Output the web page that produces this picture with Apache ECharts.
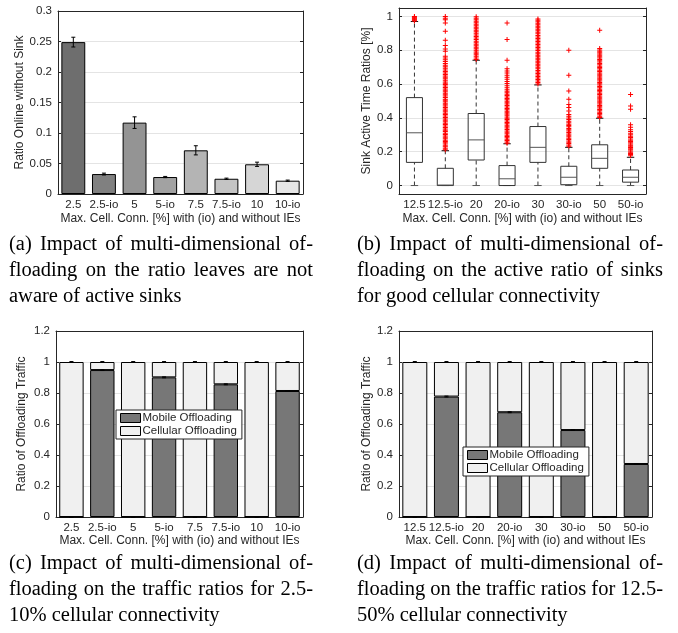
<!DOCTYPE html>
<html>
<head>
<meta charset="utf-8">
<script src="https://cdn.jsdelivr.net/npm/echarts@6/dist/echarts.min.js"></script>
<style>
html, body { margin: 0; padding: 0; background: #fff; }
#main { width: 678px; height: 633px; }
</style>
</head>
<body>
<div id="main"></div>
<script>
// categories
const catsLow = ['2.5', '2.5-io', '5', '5-io', '7.5', '7.5-io', '10', '10-io']
const catsHigh = ['12.5', '12.5-io', '20', '20-io', '30', '30-io', '50', '50-io']

// (a) ratio online without sink, with error
const ratioOnline = [0.249, 0.0327, 0.117, 0.0278, 0.0716, 0.025, 0.0487, 0.0218]
const ratioOnlineErr = [0.008, 0.0015, 0.0095, 0.001, 0.0075, 0.001, 0.0035, 0.001]

// (b) sink active time ratios: [min, q1, median, q3, max]
const sinkBox = [
  [0, 0.137, 0.312, 0.52, 0.97],
  [0, 0, 0.003, 0.102, 0.206],
  [0, 0.151, 0.27, 0.426, 0.741],
  [0, 0, 0.04, 0.118, 0.247],
  [0, 0.137, 0.226, 0.349, 0.595],
  [0, 0.005, 0.049, 0.114, 0.226],
  [0, 0.102, 0.161, 0.241, 0.398],
  [0, 0.02, 0.049, 0.092, 0.167]
]
const sinkOutliers = [
  [0.973, 0.977, 0.981, 0.985, 0.989, 0.993, 0.997, 1.0],
  [0.212, 0.22, 0.229, 0.236, 0.245, 0.253, 0.26, 0.268, 0.277, 0.286, 0.293, 0.302, 0.31, 0.319, 0.327, 0.334,
    0.344, 0.352, 0.361, 0.369, 0.377, 0.386, 0.393, 0.402, 0.411, 0.42, 0.427, 0.436, 0.445, 0.453, 0.462, 0.47,
    0.478, 0.487, 0.495, 0.504, 0.511, 0.52, 0.529, 0.537, 0.546, 0.554, 0.563, 0.571, 0.58, 0.588, 0.597, 0.605,
    0.613, 0.622, 0.631, 0.64, 0.648, 0.657, 0.666, 0.675, 0.684, 0.693, 0.702, 0.712, 0.722, 0.733, 0.744, 0.755,
    0.765, 0.794, 0.808, 0.828, 0.859, 0.912, 0.962, 0.98, 0.99, 1.0],
  [0.745, 0.754, 0.764, 0.773, 0.782, 0.79, 0.8, 0.809, 0.818, 0.827, 0.836, 0.845, 0.854, 0.863, 0.872, 0.881,
    0.89, 0.9, 0.909, 0.918, 0.927, 0.936, 0.945, 0.954, 0.963, 0.972, 0.981, 0.99, 0.998],
  [0.25, 0.258, 0.266, 0.274, 0.282, 0.29, 0.298, 0.307, 0.315, 0.323, 0.331, 0.34, 0.348, 0.356, 0.365, 0.373,
    0.381, 0.39, 0.398, 0.406, 0.415, 0.423, 0.431, 0.44, 0.448, 0.456, 0.465, 0.473, 0.482, 0.49, 0.498, 0.507,
    0.515, 0.524, 0.532, 0.54, 0.549, 0.557, 0.566, 0.578, 0.59, 0.603, 0.615, 0.628, 0.64, 0.652, 0.665, 0.678,
    0.69, 0.741, 0.863, 0.961],
  [0.6, 0.609, 0.618, 0.627, 0.636, 0.645, 0.654, 0.663, 0.672, 0.681, 0.69, 0.699, 0.708, 0.717, 0.726, 0.735,
    0.744, 0.753, 0.762, 0.771, 0.78, 0.789, 0.798, 0.807, 0.816, 0.825, 0.834, 0.843, 0.852, 0.861, 0.87, 0.879,
    0.888, 0.897, 0.906, 0.915, 0.924, 0.933, 0.942, 0.951, 0.96, 0.969, 0.978, 0.985],
  [0.232, 0.24, 0.248, 0.256, 0.264, 0.272, 0.28, 0.289, 0.297, 0.305, 0.313, 0.322, 0.33, 0.338, 0.347, 0.355,
    0.363, 0.371, 0.38, 0.39, 0.4, 0.41, 0.42, 0.441, 0.461, 0.48, 0.51, 0.559, 0.653, 0.8],
  [0.402, 0.41, 0.418, 0.426, 0.434, 0.442, 0.45, 0.458, 0.466, 0.474, 0.482, 0.49, 0.498, 0.506, 0.514, 0.522,
    0.53, 0.538, 0.546, 0.554, 0.562, 0.57, 0.578, 0.586, 0.594, 0.602, 0.61, 0.618, 0.626, 0.634, 0.642, 0.65,
    0.658, 0.666, 0.674, 0.682, 0.69, 0.698, 0.706, 0.714, 0.722, 0.73, 0.738, 0.746, 0.754, 0.762, 0.77, 0.778,
    0.786, 0.794, 0.802, 0.81, 0.918],
  [0.176, 0.183, 0.19, 0.197, 0.204, 0.211, 0.218, 0.225, 0.232, 0.239, 0.246, 0.253, 0.26, 0.268, 0.276, 0.284,
    0.292, 0.3, 0.31, 0.32, 0.33, 0.345, 0.36, 0.451, 0.47, 0.539]
]

// (c) / (d) share of offloading traffic
const mobileLow = [0, 0.948, 0, 0.901, 0, 0.856, 0, 0.813]
const cellularLow = [1, 0.052, 1, 0.099, 1, 0.144, 1, 0.187]
const mobileHigh = [0, 0.777, 0, 0.676, 0, 0.561, 0, 0.342]
const cellularHigh = [1, 0.223, 1, 0.324, 1, 0.439, 1, 0.658]
const shareErr = [0.003, 0.003, 0.003, 0.003, 0.003, 0.003, 0.003, 0.003]

const barGreys = ['#6e6e6e', '#808080', '#949494', '#a2a2a2', '#b4b4b4', '#c4c4c4', '#d6d6d6', '#e6e6e6']
const ink = '#262626'
const xName = 'Max. Cell. Conn. [%] with (io) and without IEs'

const chart = echarts.init(document.getElementById('main'))

const grids = [
  { left: 58, top: 11, width: 245, height: 183 },
  { left: 399, top: 8, width: 247, height: 186 },
  { left: 56, top: 331, width: 247, height: 186 },
  { left: 399, top: 331, width: 253, height: 186 }
]

function xAxisPair(gridIndex, cats, nameGap) {
  const base = {
    type: 'category',
    gridIndex,
    data: cats,
    boundaryGap: true,
    axisLine: { onZero: false, lineStyle: { color: ink, width: 1 } },
    axisTick: { inside: true, length: 3, alignWithLabel: true, lineStyle: { color: ink } },
    splitLine: { show: false }
  }
  return [
    Object.assign({}, base, {
      position: 'bottom',
      name: xName,
      nameLocation: 'middle',
      nameGap,
      nameTextStyle: { fontSize: 12, color: ink },
      axisLabel: { fontSize: 11.5, color: ink, margin: 5, interval: 0 }
    }),
    Object.assign({}, base, { position: 'top', axisLabel: { show: false } })
  ]
}

function yAxisPair(gridIndex, cfg) {
  const base = {
    type: 'value',
    gridIndex,
    min: cfg.min,
    max: cfg.max,
    interval: cfg.interval,
    axisLine: { show: true, onZero: false, lineStyle: { color: ink, width: 1 } },
    axisTick: { show: true, inside: true, length: 3, lineStyle: { color: ink }, customValues: cfg.ticks },
  }
  return [
    Object.assign({}, base, {
      position: 'left',
      name: cfg.name,
      nameLocation: 'middle',
      nameGap: cfg.nameGap,
      nameTextStyle: { fontSize: 12, color: ink },
      axisLabel: { fontSize: 11.5, color: ink, margin: 6, customValues: cfg.ticks },
      splitLine: { show: true, lineStyle: { color: '#e4e4e4', width: 1 } }
    }),
    Object.assign({}, base, {
      position: 'right',
      axisLabel: { show: false },
      splitLine: { show: false }
    })
  ]
}

// error bar drawn through the axis scales
function errorBarItem(params, api) {
  const i = api.value(0)
  const v = api.value(1)
  const e = api.value(2)
  const hi = api.coord([i, v + e])
  const lo = api.coord([i, v - e])
  const w = 4
  const st = { stroke: '#000', lineWidth: 1 }
  return {
    type: 'group',
    children: [
      { type: 'line', shape: { x1: hi[0], y1: hi[1], x2: lo[0], y2: lo[1] }, style: st },
      { type: 'line', shape: { x1: hi[0] - w / 2, y1: hi[1], x2: hi[0] + w / 2, y2: hi[1] }, style: st },
      { type: 'line', shape: { x1: lo[0] - w / 2, y1: lo[1], x2: lo[0] + w / 2, y2: lo[1] }, style: st }
    ]
  }
}

// matlab style box: dashed whiskers, grey median
function boxItem(params, api) {
  const i = api.value(0)
  const p = [1, 2, 3, 4, 5].map((k) => api.coord([i, api.value(k)]))
  const band = api.size([1, 0])[0]
  const half = band * 0.26
  const cap = band * 0.12
  const cx = p[0][0]
  const solid = { stroke: '#333', lineWidth: 1, fill: null }
  const dashed = { stroke: '#333', lineWidth: 1, lineDash: [4, 3] }
  return {
    type: 'group',
    children: [
      { type: 'line', shape: { x1: cx, y1: p[0][1], x2: cx, y2: p[1][1] }, style: dashed },
      { type: 'line', shape: { x1: cx, y1: p[3][1], x2: cx, y2: p[4][1] }, style: dashed },
      { type: 'line', shape: { x1: cx - cap, y1: p[0][1], x2: cx + cap, y2: p[0][1] }, style: { stroke: '#555', lineWidth: 1 } },
      { type: 'line', shape: { x1: cx - cap, y1: p[4][1], x2: cx + cap, y2: p[4][1] }, style: { stroke: '#111', lineWidth: 1 } },
      { type: 'rect', shape: { x: cx - half, y: p[3][1], width: half * 2, height: p[1][1] - p[3][1] }, style: solid },
      { type: 'line', shape: { x1: cx - half, y1: p[2][1], x2: cx + half, y2: p[2][1] }, style: { stroke: '#555', lineWidth: 1 } }
    ]
  }
}

const outlierPoints = []
sinkOutliers.forEach((list, i) => list.forEach((v) => outlierPoints.push([i, v])))

function shareSeries(xi, yi, mobile, cellular) {
  return [
    {
      name: 'Mobile Offloading', type: 'bar', xAxisIndex: xi, yAxisIndex: yi, stack: 'share' + xi,
      barWidth: '79%', data: mobile,
      itemStyle: { color: '#777777', borderColor: '#000', borderWidth: 1 }
    },
    {
      name: 'Cellular Offloading', type: 'bar', xAxisIndex: xi, yAxisIndex: yi, stack: 'share' + xi,
      barWidth: '79%', data: cellular,
      itemStyle: { color: '#f0f0f0', borderColor: '#000', borderWidth: 1 }
    },
    {
      type: 'custom', xAxisIndex: xi, yAxisIndex: yi, renderItem: errorBarItem, z: 5,
      encode: { x: 0, y: 1 },
      data: mobile.map((v, i) => [i, v, shareErr[i]])
    },
    {
      type: 'custom', xAxisIndex: xi, yAxisIndex: yi, renderItem: errorBarItem, z: 5,
      encode: { x: 0, y: 1 },
      data: mobile.map((v, i) => [i, v + cellular[i], shareErr[i]])
    }
  ]
}

function legendAt(left, top) {
  return {
    data: ['Mobile Offloading', 'Cellular Offloading'],
    orient: 'vertical', left, top,
    icon: 'rect', itemWidth: 20, itemHeight: 9, itemGap: 1,
    padding: [2, 5, 2, 4],
    backgroundColor: '#fff', borderColor: ink, borderWidth: 1, borderRadius: 0,
    selectedMode: false,
    itemStyle: { borderWidth: 1, borderColor: '#000' },
    textStyle: { fontSize: 11.5, color: ink, lineHeight: 12, padding: [0, 0, 0, -3] }
  }
}

// captions, justified like the paper layout
const capFont = 20.5
const capFamily = 'Liberation Serif'
const measureCtx = document.createElement('canvas').getContext('2d')
measureCtx.font = capFont + 'px "' + capFamily + '"'
function caption(lines, x, y, width) {
  const out = []
  lines.forEach((line, li) => {
    const ty = y + li * 26
    const words = line.split(' ')
    let gap = measureCtx.measureText(' ').width
    if (li < lines.length - 1) {
      const wsum = words.reduce((s, w) => s + measureCtx.measureText(w).width, 0)
      gap = (width - wsum) / (words.length - 1)
    }
    let cx = x
    words.forEach((w) => {
      out.push({
        type: 'text', x: cx, y: ty,
        style: { text: w, fontSize: capFont, fontFamily: capFamily, fill: '#000', verticalAlign: 'middle' }
      })
      cx += measureCtx.measureText(w).width + gap
    })
  })
  return out
}

const xAxes = [].concat(
  xAxisPair(0, catsLow, 19),
  xAxisPair(1, catsHigh, 19),
  xAxisPair(2, catsLow, 18),
  xAxisPair(3, catsHigh, 18)
)
const yAxes = [].concat(
  yAxisPair(0, { min: 0, max: 0.3, interval: 0.05, name: 'Ratio Online without Sink', nameGap: 31 }),
  yAxisPair(1, { min: -0.05, max: 1.05, name: 'Sink Active Time Ratios [%]', nameGap: 25, ticks: [0, 0.2, 0.4, 0.6, 0.8, 1] }),
  yAxisPair(2, { min: 0, max: 1.2, interval: 0.2, name: 'Ratio of Offloading Traffic', nameGap: 28 }),
  yAxisPair(3, { min: 0, max: 1.2, interval: 0.2, name: 'Ratio of Offloading Traffic', nameGap: 25 })
)

const option = {
  animation: false,
  backgroundColor: '#fff',
  textStyle: { fontFamily: 'Liberation Sans' },
  grid: grids,
  xAxis: xAxes,
  yAxis: yAxes,
  legend: [legendAt(116, 410), legendAt(463, 447)],
  series: [
    {
      type: 'bar', xAxisIndex: 0, yAxisIndex: 0, barWidth: '78%',
      data: ratioOnline.map((v, i) => ({ value: v, itemStyle: { color: barGreys[i] } })),
      itemStyle: { borderColor: '#000', borderWidth: 1 }
    },
    {
      type: 'custom', xAxisIndex: 0, yAxisIndex: 0, renderItem: errorBarItem, z: 5,
      encode: { x: 0, y: 1 },
      data: ratioOnline.map((v, i) => [i, v, ratioOnlineErr[i]])
    },
    {
      type: 'custom', xAxisIndex: 2, yAxisIndex: 2, renderItem: boxItem,
      encode: { x: 0, y: [1, 2, 3, 4, 5] },
      data: sinkBox.map((b, i) => [i].concat(b))
    },
    {
      type: 'scatter', xAxisIndex: 2, yAxisIndex: 2, z: 4,
      symbol: 'path://M2,0h1v2h2v1h-2v2h-1v-2h-2v-1h2z', symbolSize: 5,
      itemStyle: { color: '#ff0000', opacity: 1 },
      data: outlierPoints
    }
  ].concat(
    shareSeries(4, 4, mobileLow, cellularLow),
    shareSeries(6, 6, mobileHigh, cellularHigh)
  ),
  graphic: [].concat(
    caption(['(a) Impact of multi-dimensional of-', 'floading on the ratio leaves are not', 'aware of active sinks'], 9, 245, 304),
    caption(['(b) Impact of multi-dimensional of-', 'floading on the active ratio of sinks', 'for good cellular connectivity'], 357, 245, 306),
    caption(['(c) Impact of multi-dimensional of-', 'floading on the traffic ratios for 2.5-', '10% cellular connectivity'], 9, 564, 304),
    caption(['(d) Impact of multi-dimensional of-', 'floading on the traffic ratios for 12.5-', '50% cellular connectivity'], 357, 564, 306)
  )
}

chart.setOption(option)
</script>
</body>
</html>
